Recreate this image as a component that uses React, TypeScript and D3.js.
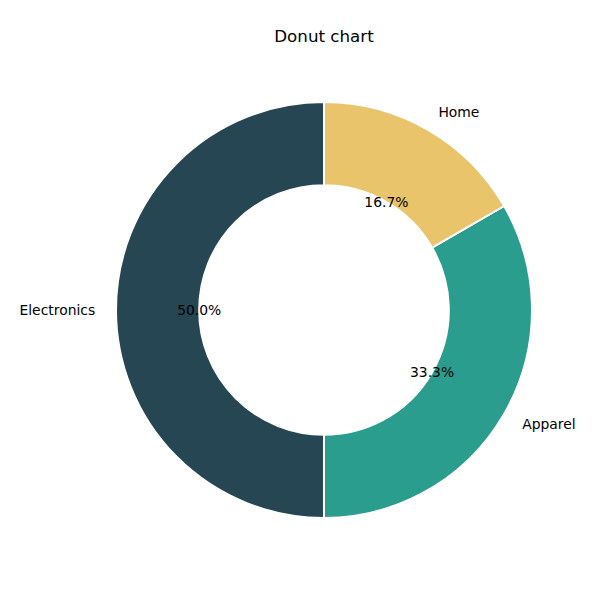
import { useRef, useEffect } from "react";
import * as d3 from "d3";

const categories = ["Electronics", "Apparel", "Home"];
const values = [3, 2, 1];
const colors = ["#264653", "#2a9d8f", "#e9c46a"];

const font = "DejaVu Sans, sans-serif";

export default function App() {
  const svgRef = useRef<SVGSVGElement>(null);

  useEffect(() => {
    if (!svgRef.current) return;
    const width = 600;
    const height = 600;
    const cx = 324;
    const cy = 310;
    const outer = 208;
    const inner = outer * 0.6;

    const svg = d3.select(svgRef.current);
    svg.selectAll("*").remove();
    svg.attr("width", width).attr("height", height);

    // counter-clockwise from 12 o'clock, like matplotlib startangle=90
    const pie = d3
      .pie<number>()
      .sort(null)
      .startAngle(0)
      .endAngle(-2 * Math.PI);
    const arcs = pie(values);
    const total = d3.sum(values);

    const arc = d3.arc<d3.PieArcDatum<number>>().innerRadius(inner).outerRadius(outer);

    const g = svg.append("g").attr("transform", `translate(${cx},${cy})`);

    g.selectAll("path")
      .data(arcs)
      .join("path")
      .attr("d", arc)
      .attr("fill", (_, i) => colors[i])
      .attr("stroke", "#ffffff")
      .attr("stroke-width", 2)
      .attr("stroke-linejoin", "round");

    const mid = (d: d3.PieArcDatum<number>) => (d.startAngle + d.endAngle) / 2;

    // category labels
    g.selectAll("text.label")
      .data(arcs)
      .join("text")
      .attr("class", "label")
      .attr("x", (d) => Math.sin(mid(d)) * outer * 1.1)
      .attr("y", (d) => -Math.cos(mid(d)) * outer * 1.1)
      .attr("text-anchor", (d) => (Math.sin(mid(d)) < 0 ? "end" : "start"))
      .attr("dominant-baseline", "central")
      .attr("font-family", font)
      .attr("font-size", 13.9)
      .attr("fill", "#000")
      .text((_, i) => categories[i]);

    // percentage labels
    g.selectAll("text.pct")
      .data(arcs)
      .join("text")
      .attr("class", "pct")
      .attr("x", (d) => Math.sin(mid(d)) * outer * 0.6)
      .attr("y", (d) => -Math.cos(mid(d)) * outer * 0.6)
      .attr("text-anchor", "middle")
      .attr("dominant-baseline", "central")
      .attr("font-family", font)
      .attr("font-size", 13.9)
      .attr("fill", "#000")
      .text((d) => `${((d.value / total) * 100).toFixed(1)}%`);

    svg
      .append("text")
      .attr("x", cx)
      .attr("y", 36)
      .attr("text-anchor", "middle")
      .attr("dominant-baseline", "central")
      .attr("font-family", font)
      .attr("font-size", 16.7)
      .attr("fill", "#000")
      .text("Donut chart");
  }, []);

  return (
    <div style={{ position: "absolute", left: 0, top: 0, width: 600, height: 600, background: "#fff" }}>
      <svg ref={svgRef} style={{ display: "block" }} />
    </div>
  );
}
